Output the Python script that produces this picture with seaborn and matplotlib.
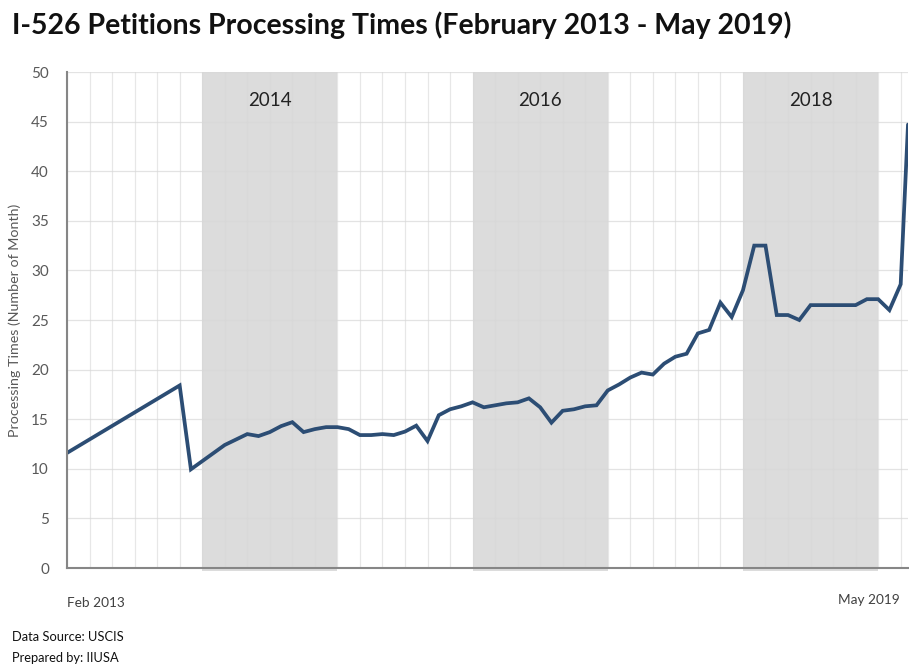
import matplotlib
matplotlib.use("Agg")
import matplotlib.pyplot as plt
import seaborn as sns
import pandas as pd

# ---- data (months since Feb 2013, processing time in months) ----
months = [0, 10, 11, 14, 16, 17, 18, 19, 20, 21, 22, 23, 24, 25, 26, 27, 28, 29,
          30, 31, 32, 33, 34, 35, 36, 37, 38, 39, 40, 41, 42, 43, 44, 45, 46, 47,
          48, 49, 50, 51, 52, 53, 54, 55, 56, 57, 58, 59, 60, 61, 62, 63, 64, 65,
          66, 67, 68, 69, 70, 71, 72, 73, 74, 74.65]
times = [11.6, 18.4, 9.95, 12.4, 13.5, 13.3, 13.7, 14.3, 14.7, 13.7, 14.0, 14.2,
         14.2, 14.0, 13.4, 13.4, 13.5, 13.4, 13.75, 14.35, 12.8, 15.4, 16.0, 16.3,
         16.7, 16.2, 16.4, 16.6, 16.7, 17.1, 16.2, 14.65, 15.85, 16.0, 16.3, 16.4,
         17.9, 18.5, 19.2, 19.7, 19.5, 20.6, 21.3, 21.6, 23.65, 24.0, 26.75, 25.3,
         28.0, 32.5, 32.5, 25.5, 25.5, 25.0, 26.5, 26.5, 26.5, 26.5, 26.5, 27.1,
         27.1, 26.0, 28.6, 44.7]
band_years = ["2014", "2016", "2018"]
band_starts = [12, 36, 60]
band_ends = [24, 48, 72]
x_tick_labels = ["Feb 2013", "May 2019"]
y_ticks = [0, 5, 10, 15, 20, 25, 30, 35, 40, 45, 50]

df = pd.DataFrame({"month": months, "time": times})

sns.set_style("white")
plt.rcParams["font.family"] = ["Lato", "DejaVu Sans"]

fig = plt.figure(figsize=(9.09, 6.66), dpi=100)
ax = fig.add_axes([67 / 909, 98 / 666, 841 / 909, 496 / 666])

# shaded year bands
for yr, s, e in zip(band_years, band_starts, band_ends):
    ax.axvspan(s, e, ymin=-0.007, ymax=1, color="#DCDCDC", lw=0, zorder=0, clip_on=False)
    ax.text((s + e) / 2, 47.1, yr, ha="center", va="center", fontsize=13.5,
            color="#222222", zorder=3)

# grid
for v in range(0, 75, 2):
    ax.axvline(v, color="#D8D8D8", lw=0.9, alpha=0.6, zorder=1)
for v in y_ticks[1:]:
    ax.axhline(v, color="#D8D8D8", lw=0.9, alpha=0.7, zorder=1)

sns.lineplot(data=df, x="month", y="time", ax=ax, color="#2C4D74", lw=2.7,
             zorder=4, solid_joinstyle="miter")

ax.set_xlim(0, 74.65)
ax.set_ylim(0, 50)
ax.set_yticks(y_ticks)
ax.set_yticklabels([str(t) for t in y_ticks], fontsize=11, color="#595959")
ax.tick_params(axis="y", length=0, pad=13)
ax.set_xticks([])
ax.set_xlabel("")
ax.set_ylabel("Processing Times (Number of Month)", fontsize=10.3, color="#595959")
ax.yaxis.set_label_coords(-46 / 841, 0.5)

for side in ["top", "right"]:
    ax.spines[side].set_visible(False)
for side in ["left", "bottom"]:
    ax.spines[side].set_color("#868686")
    ax.spines[side].set_linewidth(1.5)
    ax.spines[side].set_zorder(5)

# x end labels
fig.text(67 / 909, 1 - 603 / 666, x_tick_labels[0], ha="left", va="center",
         fontsize=9.8, color="#404040")
fig.text(900 / 909, 1 - 600 / 666, x_tick_labels[1], ha="right", va="center",
         fontsize=9.8, color="#404040")

fig.text(12 / 909, 1 - 25 / 666,
         "I-526 Petitions Processing Times (February 2013 - May 2019)",
         ha="left", va="center", fontsize=20.5, fontweight="bold", color="#111111")
fig.text(12 / 909, 1 - 637 / 666, "Data Source: USCIS", ha="left", va="center",
         fontsize=9.3, color="#111111")
fig.text(12 / 909, 1 - 658 / 666, "Prepared by: IIUSA", ha="left", va="center",
         fontsize=9.3, color="#111111")

fig.savefig("out.png", dpi=100, facecolor="white")
